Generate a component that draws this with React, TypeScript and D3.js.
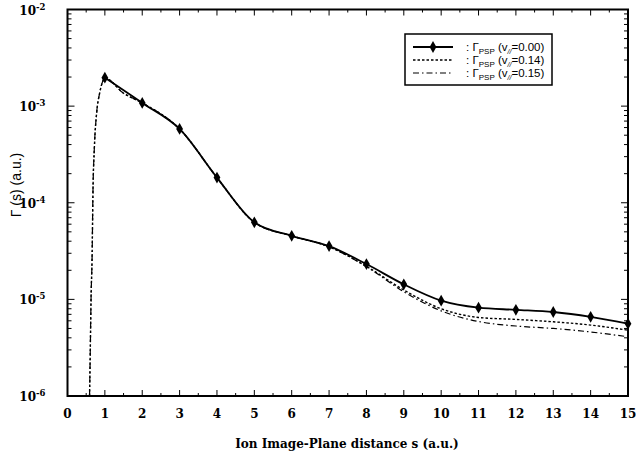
import React, { useEffect, useRef } from 'react';
import * as d3 from 'd3';

// diamonds on the solid curve (v// = 0.00)
const solidS = [1, 2, 3, 4, 5, 6, 7, 8, 9, 10, 11, 12, 13, 14, 15];
const solidVals = [
  1.97e-3, 1.08e-3, 5.8e-4, 1.82e-4, 6.27e-5, 4.55e-5, 3.56e-5, 2.32e-5,
  1.43e-5, 9.7e-6, 8.2e-6, 7.8e-6, 7.4e-6, 6.6e-6, 5.6e-6,
];

// the two broken curves share the same s grid
const dashS = [
  0.59, 0.61, 0.63, 0.66, 0.68, 0.72, 0.78, 0.86, 0.93, 1.0, 1.5, 2, 3, 4, 5, 6,
  7, 8, 9, 10, 11, 12, 13, 14, 15,
];
const dottedVals = [
  1e-6, 3e-6, 1e-5, 3e-5, 1.2e-4, 3.8e-4, 8.5e-4, 1.36e-3, 1.75e-3, 1.95e-3,
  1.36e-3, 1.08e-3, 5.8e-4, 1.82e-4, 6.27e-5, 4.55e-5, 3.5e-5, 2.2e-5, 1.25e-5,
  8.0e-6, 6.5e-6, 6.2e-6, 5.86e-6, 5.42e-6, 4.8e-6,
];
const dashDotVals = [
  1e-6, 3e-6, 1e-5, 3e-5, 1.2e-4, 3.8e-4, 8.5e-4, 1.36e-3, 1.75e-3, 1.95e-3,
  1.36e-3, 1.08e-3, 5.8e-4, 1.82e-4, 6.27e-5, 4.55e-5, 3.5e-5, 2.18e-5, 1.2e-5,
  7.6e-6, 5.9e-6, 5.3e-6, 5.0e-6, 4.6e-6, 4.1e-6,
];

const xTicks = [0, 1, 2, 3, 4, 5, 6, 7, 8, 9, 10, 11, 12, 13, 14, 15];
const yExps = [-6, -5, -4, -3, -2];
const legendLabels = ['0.00', '0.14', '0.15'];

const W = 636;
const H = 455;

const App = () => {
  const svgRef = useRef<SVGSVGElement>(null);

  useEffect(() => {
    const svg = d3.select(svgRef.current);
    svg.selectAll('*').remove();

    const left = 67.5, right = 628, top = 9.5, bottom = 396;
    const x = d3.scaleLinear().domain([0, 15]).range([left, right]);
    const y = d3.scaleLog().domain([1e-6, 1e-2]).range([bottom, top]);

    const serif = 'DejaVu Serif';
    const sans = 'Liberation Sans, Arial, sans-serif';

    svg.append('defs').append('clipPath').attr('id', 'plot')
      .append('rect').attr('x', left).attr('y', top)
      .attr('width', right - left).attr('height', bottom - top);

    // minor ticks
    const xMinor = d3.range(0.5, 15, 1);
    const yMinor: number[] = [];
    yExps.slice(0, -1).forEach((e) => {
      for (let k = 2; k <= 9; k++) yMinor.push(k * Math.pow(10, e));
    });

    const tickG = svg.append('g').attr('stroke', '#000').attr('stroke-width', 1);
    xTicks.forEach((t) => {
      tickG.append('line').attr('x1', x(t)).attr('x2', x(t)).attr('y1', bottom).attr('y2', bottom - 6);
      tickG.append('line').attr('x1', x(t)).attr('x2', x(t)).attr('y1', top).attr('y2', top + 6);
    });
    xMinor.forEach((t) => {
      tickG.append('line').attr('x1', x(t)).attr('x2', x(t)).attr('y1', bottom).attr('y2', bottom - 3);
      tickG.append('line').attr('x1', x(t)).attr('x2', x(t)).attr('y1', top).attr('y2', top + 3);
    });
    yExps.forEach((e) => {
      const v = Math.pow(10, e);
      tickG.append('line').attr('x1', left).attr('x2', left + 7).attr('y1', y(v)).attr('y2', y(v));
      tickG.append('line').attr('x1', right).attr('x2', right - 7).attr('y1', y(v)).attr('y2', y(v));
    });
    yMinor.forEach((v) => {
      tickG.append('line').attr('x1', left).attr('x2', left + 4).attr('y1', y(v)).attr('y2', y(v));
      tickG.append('line').attr('x1', right).attr('x2', right - 4).attr('y1', y(v)).attr('y2', y(v));
    });

    // frame
    svg.append('rect').attr('x', left).attr('y', top)
      .attr('width', right - left).attr('height', bottom - top)
      .attr('fill', 'none').attr('stroke', '#000').attr('stroke-width', 2);

    // x tick labels
    svg.append('g').selectAll('text').data(xTicks).join('text')
      .attr('x', (d) => x(d)).attr('y', bottom + 22)
      .attr('text-anchor', 'middle')
      .attr('font-family', serif).attr('font-weight', 'bold').attr('font-size', 12)
      .text((d) => d);

    // y tick labels 10^e
    const yl = svg.append('g').selectAll('text').data(yExps).join('text')
      .attr('x', left - 22).attr('y', (d) => y(Math.pow(10, d)) + 5)
      .attr('text-anchor', 'end')
      .attr('font-family', serif).attr('font-weight', 'bold').attr('font-size', 12);
    yl.append('tspan').text('10');
    yl.append('tspan').attr('dy', -5).attr('font-size', 8.5).text((d) => d);

    // curves
    const line = d3.line<[number, number]>()
      .x((d) => x(d[0])).y((d) => y(d[1]))
      .curve(d3.curveMonotoneX);
    const curves = svg.append('g').attr('clip-path', 'url(#plot)').attr('fill', 'none');
    curves.append('path')
      .attr('d', line(dashS.map((s, i) => [s, dashDotVals[i]] as [number, number])))
      .attr('stroke', '#000').attr('stroke-width', 1.2).attr('stroke-dasharray', '6,3,1.5,3');
    curves.append('path')
      .attr('d', line(dashS.map((s, i) => [s, dottedVals[i]] as [number, number])))
      .attr('stroke', '#000').attr('stroke-width', 1.4).attr('stroke-dasharray', '2.5,2');
    curves.append('path')
      .attr('d', line(solidS.map((s, i) => [s, solidVals[i]] as [number, number])))
      .attr('stroke', '#000').attr('stroke-width', 1.8);

    const diamond = d3.symbol().type(d3.symbolDiamond).size(40);
    svg.append('g').selectAll('path').data(solidS).join('path')
      .attr('d', diamond)
      .attr('transform', (d, i) => `translate(${x(d)},${y(solidVals[i])})`)
      .attr('fill', '#000');

    // legend
    const lg = svg.append('g');
    lg.append('rect').attr('x', 405).attr('y', 34).attr('width', 147).attr('height', 51)
      .attr('fill', '#fff').attr('stroke', '#000').attr('stroke-width', 1.5);
    const rowsY = [47, 60, 73];
    const styles = [
      { dash: null, w: 1.8 },
      { dash: '2.5,2', w: 1.4 },
      { dash: '6,3,1.5,3', w: 1.2 },
    ];
    legendLabels.forEach((lab, i) => {
      const ln = lg.append('line').attr('x1', 413).attr('x2', 453)
        .attr('y1', rowsY[i]).attr('y2', rowsY[i])
        .attr('stroke', '#000').attr('stroke-width', styles[i].w);
      if (styles[i].dash) ln.attr('stroke-dasharray', styles[i].dash);
      if (i === 0) {
        lg.append('path').attr('d', diamond).attr('fill', '#000')
          .attr('transform', `translate(433,${rowsY[i]})`);
      }
      const t = lg.append('text').attr('x', 466).attr('y', rowsY[i] + 4)
        .attr('font-family', sans).attr('font-size', 11.5);
      t.append('tspan').text(': \u0393');
      t.append('tspan').attr('dy', 3).attr('font-size', 8).text('PSP');
      t.append('tspan').attr('dy', -3).text(' (v');
      t.append('tspan').attr('dy', 3).attr('font-size', 7).attr('font-style', 'italic').text('//');
      t.append('tspan').attr('dy', -3).text(`=${lab})`);
    });

    // axis titles
    svg.append('text').attr('x', 347).attr('y', 448)
      .attr('text-anchor', 'middle')
      .attr('font-family', serif).attr('font-weight', 'bold').attr('font-size', 12)
      .text('Ion Image-Plane distance s (a.u.)');
    svg.append('text')
      .attr('transform', 'translate(21,185) rotate(-90)')
      .attr('text-anchor', 'middle')
      .attr('font-family', sans).attr('font-size', 14)
      .text('\u0393 (s)  (a.u.)');
  }, []);

  return (
    <svg ref={svgRef} width={W} height={H}
      style={{ position: 'absolute', left: 0, top: 0, background: '#fff' }} />
  );
};

export default App;
